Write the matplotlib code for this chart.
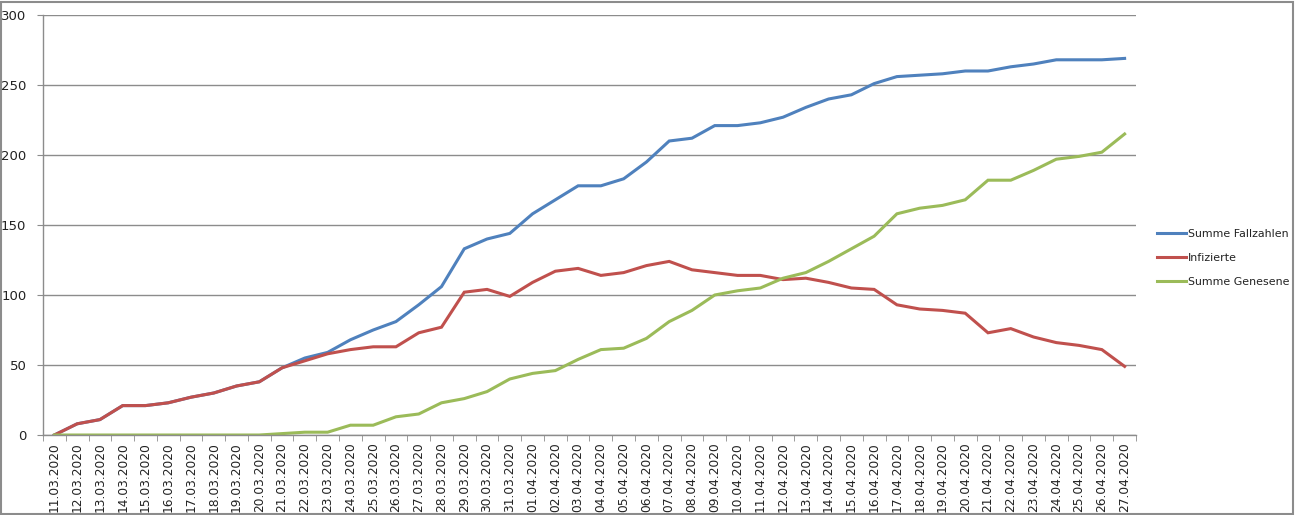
import matplotlib
matplotlib.use("Agg")
import matplotlib.pyplot as plt
from matplotlib.patches import Rectangle
from datetime import date, timedelta

start = date(2020, 3, 11)
dates = [(start + timedelta(days=i)).strftime("%d.%m.%Y") for i in range(48)]

fallzahlen = [0, 8, 11, 21, 21, 23, 27, 30, 35, 38, 48, 55, 59, 68, 75, 81, 93, 106,
              133, 140, 144, 158, 168, 178, 178, 183, 195, 210, 212, 221, 221, 223,
              227, 234, 240, 243, 251, 256, 257, 258, 260, 260, 263, 265, 268, 268,
              268, 269]
infizierte = [0, 8, 11, 21, 21, 23, 27, 30, 35, 38, 48, 53, 58, 61, 63, 63, 73, 77,
              102, 104, 99, 109, 117, 119, 114, 116, 121, 124, 118, 116, 114, 114,
              111, 112, 109, 105, 104, 93, 90, 89, 87, 73, 76, 70, 66, 64, 61, 49]
genesene = [0, 0, 0, 0, 0, 0, 0, 0, 0, 0, 1, 2, 2, 7, 7, 13, 15, 23, 26, 31, 40, 44,
            46, 54, 61, 62, 69, 81, 89, 100, 103, 105, 112, 116, 124, 133, 142, 158,
            162, 164, 168, 182, 182, 189, 197, 199, 202, 215]

series_names = ["Summe Fallzahlen", "Infizierte", "Summe Genesene"]
colors = ["#4F81BD", "#C0504D", "#9BBB59"]
yticks = [0, 50, 100, 150, 200, 250, 300]

W, H = 1296, 515
fig = plt.figure(figsize=(W / 100, H / 100), dpi=100)
fig.patch.set_facecolor("white")
fig.patches.append(Rectangle((0.001, 0.002), 0.997, 0.995, transform=fig.transFigure,
                             fill=False, edgecolor="#8c8c8c", linewidth=1.5))

ax = fig.add_axes([43 / W, 1 - 435 / H, (1136 - 43) / W, (435 - 15) / H])
x = list(range(len(dates)))
for vals, name, c in zip([fallzahlen, infizierte, genesene], series_names, colors):
    ax.plot(x, vals, color=c, linewidth=2.2, label=name, solid_joinstyle="miter")

ax.set_xlim(-0.5, len(dates) - 0.5)
ax.set_ylim(0, 300)
ax.set_yticks(yticks)
ax.set_yticklabels([str(v) for v in yticks], fontsize=9.5, color="#222222")
ax.yaxis.grid(True, color="#8c8c8c", linewidth=1.0)
ax.set_axisbelow(True)

ax.set_xticks(x)
ax.set_xticklabels(dates, rotation=90, fontsize=8.8, color="#222222")
ax.set_xticks([i - 0.5 for i in range(len(dates) + 1)], minor=True)
ax.tick_params(axis="x", which="major", length=0, pad=5)
ax.tick_params(axis="x", which="minor", length=4, color="#8c8c8c", direction="out")
ax.tick_params(axis="y", length=4, color="#8c8c8c", direction="out", pad=8)

for s in ["top", "right"]:
    ax.spines[s].set_visible(False)
for s in ["left", "bottom"]:
    ax.spines[s].set_color("#8c8c8c")
    ax.spines[s].set_linewidth(1.0)

leg = fig.legend(loc="center left", bbox_to_anchor=(1153 / W, 1 - 258 / H),
                 frameon=False, fontsize=7.9, handlelength=2.6, handletextpad=0.2,
                 labelspacing=1.25, borderaxespad=0)
for t in leg.get_texts():
    t.set_color("#222222")

fig.savefig("out.png", dpi=100, facecolor="white")
